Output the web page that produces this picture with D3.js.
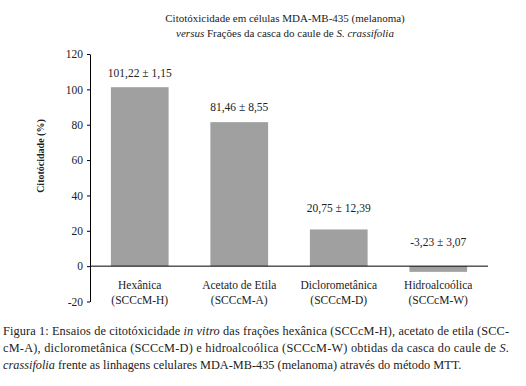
<!DOCTYPE html>
<html><head><meta charset="utf-8">
<script src="https://cdn.jsdelivr.net/npm/d3@7"></script>
<style>body{margin:0;background:#fff}svg{display:block}svg text{font-family:"Liberation Serif","Times New Roman",Times,"DejaVu Serif",serif !important;fill:#222}</style>
</head><body><svg id="c" width="526" height="386"></svg>
<script>
const categories = ["Hexânica", "Acetato de Etila", "Diclorometânica", "Hidroalcoólica"];
const codes = ["(SCCcM-H)", "(SCCcM-A)", "(SCCcM-D)", "(SCCcM-W)"];
const values = [101.22, 81.46, 20.75, -3.23];
const errors = [1.15, 8.55, 12.39, 3.07];
const yTicks = [-20, 0, 20, 40, 60, 80, 100, 120];
const fmt = v => v.toFixed(2).replace(".", ",");

const svg = d3.select("#c");
const x = d3.scaleBand().domain(categories).range([90, 488]).paddingInner(0.42).paddingOuter(0.21);
const y = d3.scaleLinear().domain([-20, 120]).range([301.5, 54]);

// title
const t = svg.append("text").attr("x", 285).attr("y", 22).attr("text-anchor", "middle").attr("font-size", 11);
t.text("Citotóxicidade em células MDA-MB-435 (melanoma)");
const t2 = svg.append("text").attr("x", 285).attr("y", 37).attr("text-anchor", "middle").attr("font-size", 11);
t2.append("tspan").attr("font-style", "italic").text("versus");
t2.append("tspan").text(" Frações da casca do caule de ");
t2.append("tspan").attr("font-style", "italic").text("S. crassifolia");

// bars
svg.selectAll("rect.bar").data(values).join("rect").attr("class", "bar")
  .attr("x", (d, i) => x(categories[i])).attr("width", x.bandwidth())
  .attr("y", d => y(Math.max(d, 0))).attr("height", d => Math.abs(y(d) - y(0)))
  .attr("fill", "#a0a0a0");

// y axis
const ax = svg.append("g").attr("transform", "translate(90,0)")
  .call(d3.axisLeft(y).tickValues(yTicks).tickSize(3).tickSizeOuter(0).tickFormat(d => d));
ax.select(".domain").attr("stroke", "#000");
ax.selectAll(".tick line").attr("stroke", "#000");
ax.selectAll(".tick text").attr("font-size", 11.5).attr("fill", "#222").attr("x", -7);

// zero line
svg.append("line").attr("x1", 90).attr("x2", 488).attr("y1", y(0)).attr("y2", y(0)).attr("stroke", "#000");

// y title
svg.append("text").attr("transform", `translate(44,${(y(0)+y(120))/2 - 4}) rotate(-90)`)
  .attr("text-anchor", "middle").attr("font-size", 10).attr("font-weight", "bold").text("Citotócidade (%)");

// value labels
svg.selectAll("text.val").data(values).join("text").attr("class", "val")
  .attr("x", (d, i) => x(categories[i]) + x.bandwidth() / 2)
  .attr("y", (d, i) => d < 0 ? y(0) - 24 : Math.min(y(d) - 14, y(d + errors[i])))
  .attr("dominant-baseline", "central").attr("text-anchor", "middle").attr("font-size", 11.5)
  .text((d, i) => fmt(d) + " ± " + fmt(errors[i]));

// category labels
categories.forEach((c, i) => {
  const cx = x(c) + x.bandwidth() / 2;
  svg.append("text").attr("x", cx).attr("y", 289).attr("text-anchor", "middle").attr("font-size", 11.5).text(c);
  svg.append("text").attr("x", cx).attr("y", 304).attr("text-anchor", "middle").attr("font-size", 11.5).text(codes[i]);
});

// caption
const cap = [
  [["Figura 1: Ensaios de citotóxicidade ", ""], ["in vitro", "i"], [" das frações hexânica (SCCcM-H), acetato de etila (SCC-", ""]],
  [["cM-A), diclorometânica (SCCcM-D) e hidroalcoólica (SCCcM-W) obtidas da casca do caule de ", ""], ["S.", "i"]],
  [["crassifolia", "i"], [" frente as linhagens celulares MDA-MB-435 (melanoma) através do método MTT.", ""]]
];
cap.forEach((line, k) => {
  const tx = svg.append("text").attr("x", 3).attr("y", 335 + k * 17).attr("font-size", 12.3);
  line.forEach(([s, st]) => tx.append("tspan").attr("font-style", st ? "italic" : null).text(s));
  if (k < 2) { tx.attr("textLength", 506).attr("lengthAdjust", "spacing"); }
});
</script></body></html>
